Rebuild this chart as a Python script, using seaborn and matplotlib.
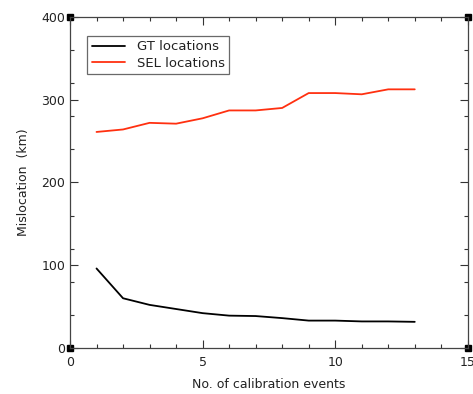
import matplotlib
matplotlib.use("Agg")
import matplotlib.pyplot as plt
import seaborn as sns
import pandas as pd
from matplotlib.ticker import FixedLocator, MultipleLocator

events = [1, 2, 3, 4, 5, 6, 7, 8, 9, 10, 11, 12, 13]
gt_values = [96, 60, 52, 47, 42, 39, 38.5, 36, 33, 33, 32, 32, 31.5]
sel_values = [261, 264, 272, 271, 277.5, 287, 287, 290, 308, 308, 306.5, 312.5, 312.5]
series_names = ["GT locations", "SEL locations"]
x_ticks = [0, 5, 10, 15]
y_ticks = [0, 100, 200, 300, 400]
y_minor = [40, 80, 120, 160, 240, 280, 320, 360]

df = pd.DataFrame({
    "events": events * 2,
    "mislocation": gt_values + sel_values,
    "series": [series_names[0]] * len(events) + [series_names[1]] * len(events),
})

sns.set_style("ticks")
plt.rcParams["font.family"] = ["DejaVu Sans"]

fig = plt.figure(figsize=(4.73, 3.94), dpi=100)
ax = fig.add_axes([0.148, 0.117, 0.841, 0.840])

sns.lineplot(data=df, x="events", y="mislocation", hue="series",
             palette={"GT locations": "black", "SEL locations": "#ff3010"},
             linewidth=1.3, ax=ax, legend=True)

ax.set_xlim(0, 15)
ax.set_ylim(0, 400)
ax.set_xticks(x_ticks)
ax.set_yticks(y_ticks)
ax.xaxis.set_minor_locator(MultipleLocator(1))
ax.yaxis.set_minor_locator(FixedLocator(y_minor))
ax.tick_params(which="both", direction="in", top=True, right=True,
               color="#333333", width=0.8, labelsize=9, labelcolor="#222222")
ax.tick_params(which="major", length=6)
ax.tick_params(which="minor", length=3)
ax.tick_params(axis="x", which="major", pad=6)

for s in ax.spines.values():
    s.set_visible(True)
    s.set_color("#444444")
    s.set_linewidth(0.9)

ax.set_xlabel("No. of calibration events", fontsize=9, color="#222222", labelpad=6)
ax.set_ylabel("Mislocation  (km)", fontsize=9, color="#222222", labelpad=8)

ax.plot([0, 1, 0, 1], [0, 0, 1, 1], "s", color="black", markersize=5,
        transform=ax.transAxes, clip_on=False)

leg = ax.legend(loc="upper left", bbox_to_anchor=(0.043, 0.943), frameon=True,
                fancybox=False, edgecolor="#444444", fontsize=9.5,
                handlelength=2.5, borderpad=0.35, labelspacing=0.25,
                handletextpad=0.9, borderaxespad=0)
leg.get_frame().set_linewidth(0.9)
for t in leg.get_texts():
    t.set_color("#222222")

fig.savefig("out.png", dpi=100)
